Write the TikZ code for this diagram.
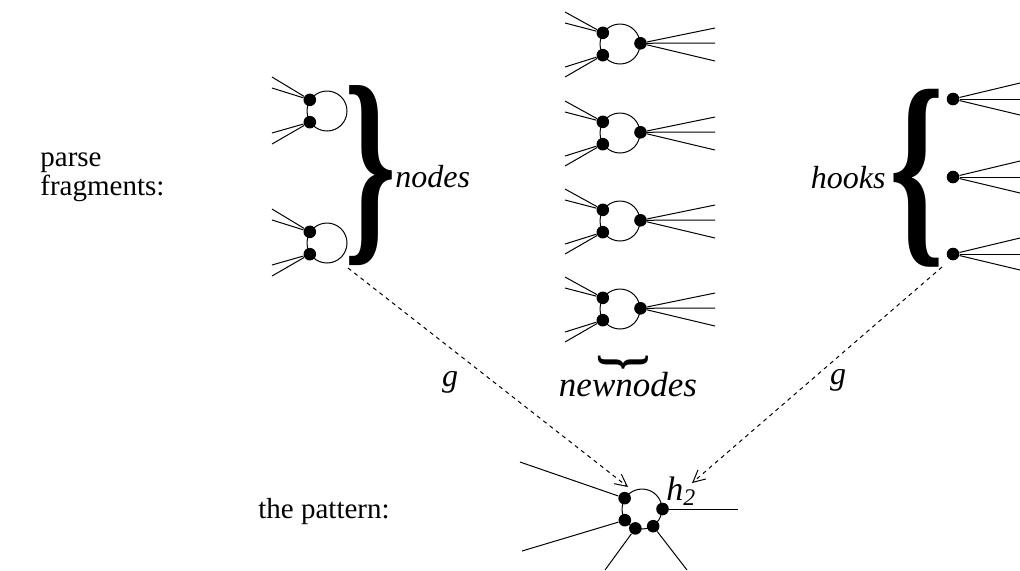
\documentclass[tikz,border=0pt]{standalone}
\usepackage{fontspec}
\setmainfont{Liberation Serif}
\usepackage{graphicx}
\usetikzlibrary{arrows.meta}
\tikzset{
  >={Straight Barb[length=6pt,width=6pt]},
  ring/.style={circle,draw=black,line width=0.5pt,minimum size=20pt,inner sep=0pt},
  fdot/.style={circle,fill=black,inner sep=0pt,minimum size=6.3pt},
  fline/.style={line width=0.5pt},
  gmap/.style={->,dash pattern=on 2pt off 2pt,line width=0.5pt},
  lbl/.style={font=\fontsize{14.5}{17}\selectfont,inner sep=0pt},
  itlbl/.style={font=\fontsize{16}{19}\selectfont\itshape,inner sep=0pt},
  bigbrace/.style={anchor=center,inner sep=0pt,font=\bfseries},
}

\begin{document}
\begin{tikzpicture}[x=0.5pt,y=-0.5pt]
  \useasboundingbox (0,0) rectangle (1020,570);
  % labels on the left
  \node[lbl,anchor=base west] (parse) at (40,166) {parse};
  \node[lbl,anchor=base west] (frags) at (40,195) {fragments:};
  \node[lbl,anchor=base west] (patlbl) at (258,518) {the pattern:};

  % parse fragments: nodes
  \foreach \i/\y in {1/111,2/243}{
    \node[ring] (l\i) at (327,\y) {};
    \node[fdot] (l\i u) at (l\i.147) {};
    \node[fdot] (l\i d) at (l\i.213) {};
    \foreach \dy [count=\k] in {-34,-23}{
      \coordinate (l\i u\k) at ([shift={(-55,\dy)}]l\i.center);
      \draw[fline] (l\i u) -- (l\i u\k);
    }
    \foreach \dy [count=\k] in {22,33}{
      \coordinate (l\i d\k) at ([shift={(-55,\dy)}]l\i.center);
      \draw[fline] (l\i d) -- (l\i d\k);
    }
  }
  \node[bigbrace] (nbrace) at (370,176)
    {\resizebox*{26pt}{90pt}{\}}};
  \node[itlbl,anchor=base west] (nodes) at (395,187) {nodes};

  % newnodes
  \foreach \i/\y in {1/44,2/133,3/221,4/309}{
    \node[ring] (c\i) at (620,\y) {};
    \node[fdot] (c\i u) at (c\i.147) {};
    \node[fdot] (c\i d) at (c\i.213) {};
    \node[fdot] (c\i r) at (c\i.2) {};
    \foreach \dy [count=\k] in {-32,-21}{
      \coordinate (c\i u\k) at ([shift={(-55,\dy)}]c\i.center);
      \draw[fline] (c\i u) -- (c\i u\k);
    }
    \foreach \dy [count=\k] in {23,33}{
      \coordinate (c\i d\k) at ([shift={(-55,\dy)}]c\i.center);
      \draw[fline] (c\i d) -- (c\i d\k);
    }
    \foreach \dy [count=\k] in {-16,-1,17}{
      \coordinate (c\i r\k) at ([shift={(95,\dy)}]c\i.center);
      \draw[fline] (c\i r) -- (c\i r\k);
    }
  }
  \node[bigbrace] (ubrace) at (623,362)
    {\rotatebox{-90}{\resizebox*{8pt}{25pt}{\}}}};
  \node[itlbl,anchor=base,font=\fontsize{17.5}{20}\selectfont\itshape]
    (newn) at (628,396) {newnodes};

  % hooks
  \foreach \i/\y in {1/99,2/177,3/254}{
    \node[fdot] (h\i) at (953,\y) {};
    \foreach \dy [count=\k] in {-16,0,16}{
      \coordinate (h\i e\k) at (1020,\y+\dy);
      \draw[fline] (h\i) -- (h\i e\k);
    }
  }
  \node[bigbrace] (hbrace) at (917,178)
    {\resizebox*{27.5pt}{89pt}{\{}};
  \node[itlbl,anchor=base east] (hooks) at (886,188) {hooks};

  % the pattern
  \node[ring] (pat) at (642,509) {};
  \node[fdot] (p1) at (pat.148) {};
  \node[fdot] (p2) at (pat.0) {};
  \node[fdot] (p3) at (pat.213) {};
  \node[fdot] (p4) at (pat.251) {};
  \node[fdot] (p5) at (pat.303) {};
  \coordinate (p1e) at (520,462);
  \coordinate (p2e) at (738,509);
  \coordinate (p3e) at (522,551);
  \coordinate (p4e) at (605,570);
  \coordinate (p5e) at (687,570);
  \foreach \j in {1,...,5}
    \draw[fline] (p\j) -- (p\j e);
  \node[itlbl,anchor=base west,font=\fontsize{17}{20}\selectfont\itshape]
    (h2) at (666,500) {h\textsubscript{2}};

  % the maps g
  \coordinate (gl) at (348,268);
  \coordinate (glt) at (628,487);
  \coordinate (gr) at (942,267);
  \coordinate (grt) at (692,483);
  \draw[gmap] (gl) -- (glt);
  \draw[gmap] (gr) -- (grt);
  \node[itlbl] (gleft) at (450,382) {g};
  \node[itlbl] (gright) at (838,380) {g};
\end{tikzpicture}
\end{document}
